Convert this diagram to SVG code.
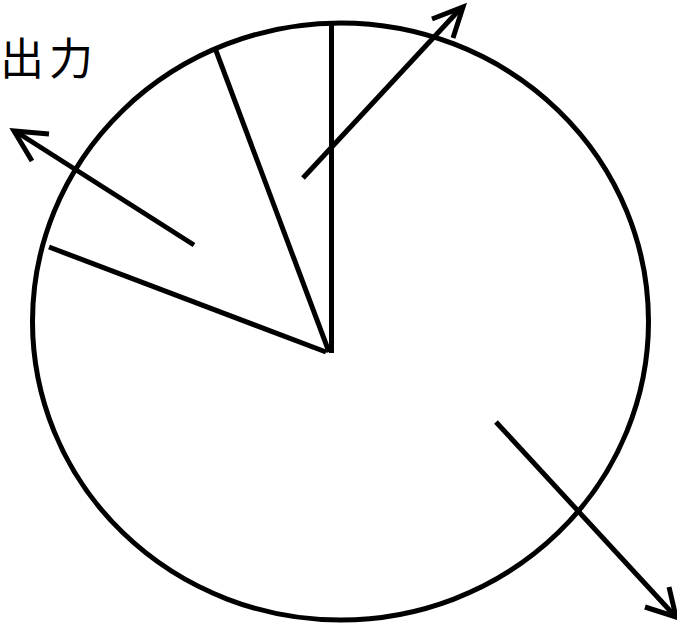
<svg xmlns="http://www.w3.org/2000/svg" width="677" height="625" viewBox="0 0 677 625">
<style>
.s{fill:none;stroke:#000;stroke-width:5;stroke-linecap:butt;stroke-linejoin:miter}
.t{font-family:"Noto Sans CJK JP","Noto Sans CJK SC",sans-serif;font-size:44px;fill:#000}
</style>
<rect width="677" height="625" fill="#fff"/>
<g id="pie">
<ellipse class="s" cx="340.5" cy="321.5" rx="308" ry="298.5"/>
<line class="s" x1="331.5" y1="23" x2="331.5" y2="353"/>
<line class="s" x1="215" y1="48" x2="329" y2="352"/>
<line class="s" x1="49" y1="247" x2="326" y2="352"/>
</g>
<g id="label">
<text class="t" x="0" y="75" letter-spacing="5">出力</text>
</g>
<g id="connectors">
<line class="s" x1="194" y1="245" x2="15" y2="131"/>
<polyline class="s" points="49,134 14,131 32,161"/>
<line class="s" x1="303" y1="178" x2="461" y2="8"/>
<polyline class="s" points="432,19 463,7 453,38"/>
<line class="s" x1="496" y1="422" x2="674" y2="615"/>
<polyline class="s" points="645,607 676,617 669,587"/>
</g>
</svg>
